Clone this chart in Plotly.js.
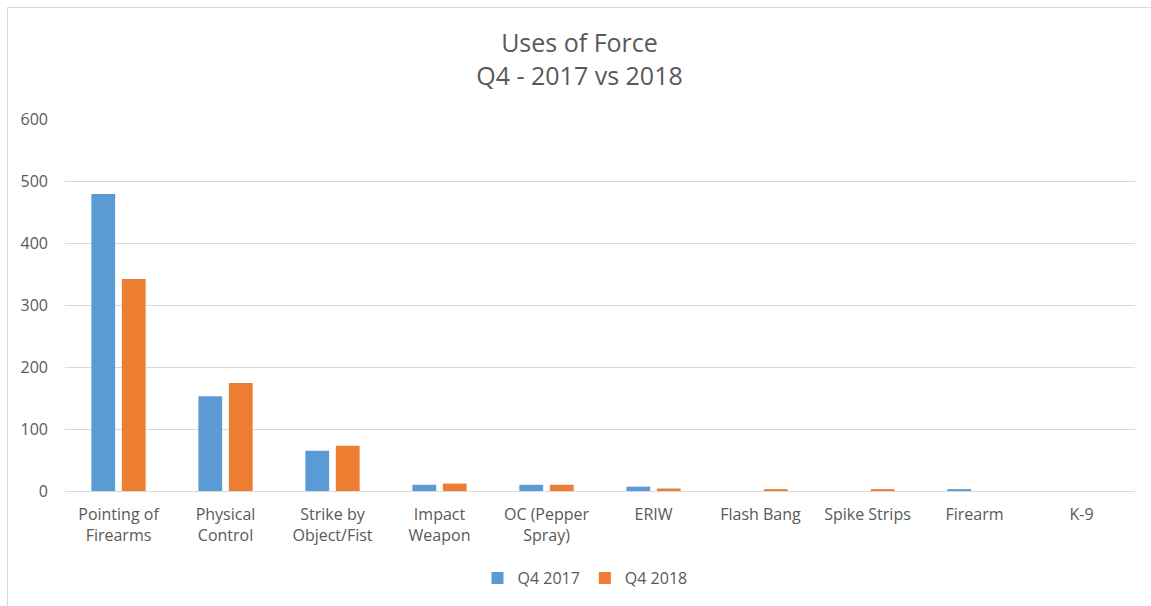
<!DOCTYPE html>
<html>
<head>
<meta charset="utf-8">
<script src="https://cdn.plot.ly/plotly-3.0.1.min.js"></script>
<style>
  html, body { margin: 0; padding: 0; background: #ffffff; }
  #chart { position: absolute; left: 7px; top: 7px; width: 1143px; height: 598px;
           border-top: 1px solid #d9d9d9; border-left: 1px solid #d9d9d9; }
</style>
</head>
<body>
<div id="chart"></div>
<script>
const categories = ["Pointing of<br>Firearms", "Physical<br>Control", "Strike by<br>Object/Fist",
  "Impact<br>Weapon", "OC (Pepper<br>Spray)", "ERIW", "Flash Bang", "Spike Strips", "Firearm", "K-9"];
const q4_2017 = [479, 153, 65, 10, 10, 7, 0, 0, 3, 0];
const q4_2018 = [342, 174, 73, 12, 10, 4, 3, 3, 0, 0];
const yTicks = [0, 100, 200, 300, 400, 500, 600];

const textColor = "#595959";
const fontFamily = "'Open Sans', sans-serif";

const data = [
  { type: "bar", name: "Q4 2017", x: categories, y: q4_2017, marker: { color: "#5B9BD5" } },
  { type: "bar", name: "Q4 2018", x: categories, y: q4_2018, marker: { color: "#ED7D31" } }
];

const layout = {
  width: 1143, height: 598,
  paper_bgcolor: "#ffffff", plot_bgcolor: "#ffffff",
  font: { family: fontFamily, color: textColor, size: 16 },
  margin: { l: 57, r: 16, t: 111, b: 115 },
  barmode: "group", bargap: 0.43, bargroupgap: 0.22,
  title: {
    text: "Uses of Force<br>Q4 - 2017 vs 2018",
    font: { family: fontFamily, size: 25, color: textColor },
    xref: "container", x: 0.5, xanchor: "center",
    yref: "container", y: 1 - 44 / 598, yanchor: "top"
  },
  xaxis: {
    type: "category", showgrid: false, showline: true, linecolor: "#d9d9d9", linewidth: 1,
    ticks: "", tickfont: { size: 16, color: textColor, family: fontFamily }, ticklabelstandoff: 9,
    tickangle: 0, fixedrange: true
  },
  yaxis: {
    range: [0, 600], tickvals: yTicks, ticktext: yTicks.map(String),
    showgrid: true, gridcolor: "#d9d9d9", gridwidth: 1, zeroline: false, showline: false,
    ticks: "", tickfont: { size: 16, color: textColor, family: fontFamily }, ticklabelstandoff: 16,
    fixedrange: true
  },
  showlegend: true,
  legend: {
    orientation: "h", xref: "container", x: 577 / 1143, xanchor: "center",
    yref: "container", y: 1 - 570 / 598, yanchor: "middle",
    font: { size: 16, color: textColor, family: fontFamily }, itemwidth: 30, traceorder: "normal"
  }
};

Plotly.newPlot("chart", data, layout, { displayModeBar: false, staticPlot: true });
</script>
</body>
</html>
